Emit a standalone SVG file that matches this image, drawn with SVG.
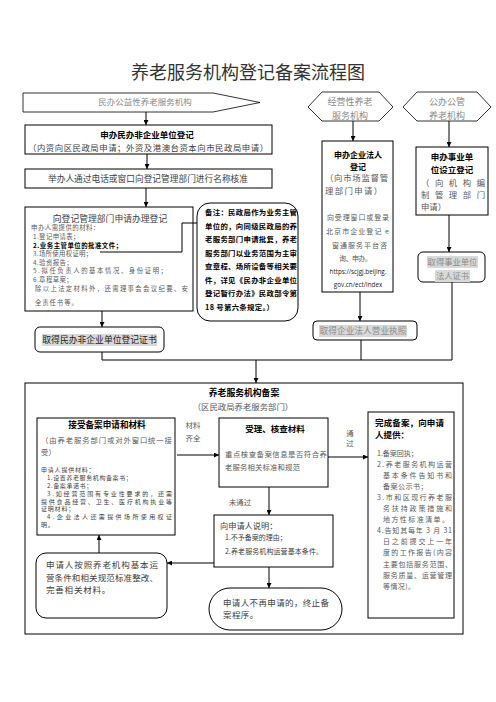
<svg xmlns="http://www.w3.org/2000/svg" width="496" height="702" viewBox="0 0 496 702">
<defs>
<marker id="ah" viewBox="0 0 10 10" refX="10" refY="5" markerWidth="5" markerHeight="5" orient="auto" markerUnits="userSpaceOnUse">
<path d="M0,0 L10,5 L0,10 z" fill="#000"/>
</marker>
<style>
text{font-family:"Noto Sans CJK SC","Noto Sans",sans-serif;}
.box{fill:#fff;stroke:#000;stroke-width:1;}
.thin{fill:#fff;stroke:#000;stroke-width:0.8;}
.ln{fill:none;stroke:#000;stroke-width:1;}
.arr{fill:none;stroke:#000;stroke-width:1;marker-end:url(#ah);}
.b{font-weight:700;fill:#000;}
.g{fill:#8a8a8a;}
.d{fill:#404040;}
.m{fill:#5a5a5a;}
.hl{fill:#d9d9d9;}
.c{text-anchor:middle;}
</style>
</defs>
<rect width="496" height="702" fill="#fff"/>
<text x="248" y="79" class="c" font-size="18" fill="#333">养老服务机构登记备案流程图</text>

<g id="n-minban">
<polygon class="thin" points="23,93 213,93 260,102.5 213,112 23,112"/>
<text x="145" y="105.3" class="c g" font-size="8.5">民办公益性养老服务机构</text>
</g>
<g id="n-jingying">
<polygon class="thin" points="308,107 322,92 379,92 393,107 379,121 322,121"/>
<text x="350" y="104.5" class="c g" font-size="9">经营性养老</text>
<text x="350" y="118.5" class="c g" font-size="9">服务机构</text>
</g>
<g id="n-gongban">
<polygon class="thin" points="403,107 417,92 477,92 491,107 477,121 417,121"/>
<text x="447" y="104.5" class="c g" font-size="9">公办公管</text>
<text x="447" y="118.5" class="c g" font-size="9">养老机构</text>
</g>

<g id="n-shenban-mf">
<rect class="box" x="25" y="125" width="247" height="29"/>
<text x="147" y="137.5" class="c b" font-size="8.5">申办民办非企业单位登记</text>
<text x="148" y="150.6" class="c d" font-size="8.4" textLength="240" lengthAdjust="spacing">（内资向区民政局申请；外资及港澳台资本向市民政局申请）</text>
</g>
<g id="n-mingcheng">
<rect class="box" x="25" y="169" width="247" height="19"/>
<text x="48" y="181.5" class="d" font-size="8.7" textLength="200" lengthAdjust="spacing">举办人通过电话或窗口向登记管理部门进行名称核准</text>
</g>
<g id="n-shenqing">
<rect class="box" x="25" y="207" width="168" height="104"/>
<text x="110" y="221.5" class="c d" font-size="8.8">向登记管理部门申请办理登记</text>
<text x="31" y="230.3" class="m" font-size="6.4" letter-spacing="0.5">申办人需提供的材料：</text>
<text x="33" y="238.9" class="m" font-size="6.4" letter-spacing="0.4">1.登记申请表；</text>
<text x="33" y="247.5" class="b" font-size="6.4" letter-spacing="0.5">2.业务主管单位的批准文件；</text>
<text x="33" y="256.1" class="m" font-size="6.4" letter-spacing="0.3">3.场所使用权证明；</text>
<text x="33" y="264.7" class="m" font-size="6.4" letter-spacing="0.4">4.验资报告；</text>
<text x="33" y="273.3" class="m" font-size="6.4" textLength="134" lengthAdjust="spacing">5.拟任负责人的基本情况、身份证明；</text>
<text x="33" y="281.9" class="m" font-size="6.4" letter-spacing="0.4">6.章程草案；</text>
<text x="35" y="290.5" class="m" font-size="6.4" textLength="153" lengthAdjust="spacing">除以上法定材料外，还需理事会会议纪要、安</text>
<text x="35" y="304.5" class="m" font-size="6.4" letter-spacing="0.9">全责任书等。</text>
</g>
<g id="n-beizhu">
<rect class="box" x="197" y="203" width="101" height="118" rx="13"/>
<text x="205" y="215" class="b" font-size="7.4" textLength="92" lengthAdjust="spacing">备注：民政局作为业务主管</text>
<text x="205" y="228.6" class="b" font-size="7.4" textLength="92" lengthAdjust="spacing">单位的，向同级民政局的养</text>
<text x="205" y="242.1" class="b" font-size="7.4" textLength="92" lengthAdjust="spacing">老服务部门申请批复，养老</text>
<text x="205" y="255.7" class="b" font-size="7.4" textLength="92" lengthAdjust="spacing">服务部门以业务范围为主审</text>
<text x="205" y="269.3" class="b" font-size="7.4" textLength="92" lengthAdjust="spacing">查章程、场所设备等相关要</text>
<text x="205" y="282.9" class="b" font-size="7.4" textLength="92" lengthAdjust="spacing">件，详见《民办非企业单位</text>
<text x="205" y="296.4" class="b" font-size="7.4" textLength="92" lengthAdjust="spacing">登记暂行办法》民政部令第</text>
<text x="205" y="310" class="b" font-size="7.4" letter-spacing="0.3">18 号第六条规定。）</text>
</g>
<g id="n-zhengshu-mf">
<rect class="box" x="35" y="327" width="129" height="25" rx="5"/>
<rect class="hl" x="42" y="334" width="115" height="12"/>
<text x="99.5" y="343.4" class="c" font-size="8.8" fill="#222">取得民办非企业单位登记证书</text>
</g>

<g id="n-qiye">
<rect class="box" x="322" y="141" width="71" height="151"/>
<text x="358" y="158" class="c b" font-size="8">申办企业法人</text>
<text x="358" y="170" class="c b" font-size="8">登记</text>
<text x="325" y="181.2" class="m" font-size="8.4" textLength="63" lengthAdjust="spacing">（向市场监督管</text>
<text x="325" y="194.2" class="m" font-size="8.4" textLength="57" lengthAdjust="spacing">理部门申请）</text>
<text x="327" y="219.7" class="m" font-size="7" textLength="62" lengthAdjust="spacing">向受理窗口或登录</text>
<text x="326" y="233.7" class="m" font-size="7" textLength="63" lengthAdjust="spacing">北京市企业登记 e</text>
<text x="332" y="247.7" class="m" font-size="7" textLength="55" lengthAdjust="spacing">窗通服务平台咨</text>
<text x="339" y="260.7" class="m" font-size="7" textLength="33" lengthAdjust="spacing">询、申办。</text>
<text x="358" y="274.3" class="c" font-size="6.3" fill="#222" style="font-family:'Open Sans','Liberation Sans',sans-serif">https://scjgj.beijing.</text>
<text x="358" y="287.3" class="c" font-size="6.3" fill="#222" style="font-family:'Open Sans','Liberation Sans',sans-serif">gov.cn/ect/index</text>
</g>
<g id="n-zhizhao">
<rect class="box" x="313" y="321" width="104" height="19" rx="4"/>
<rect class="hl" x="319" y="325" width="88" height="12"/>
<text x="363" y="334.4" class="c g" font-size="8.7">取得企业法人营业执照</text>
</g>

<g id="n-shiye">
<rect class="box" x="416" y="147" width="72" height="68"/>
<text x="452" y="160.2" class="c b" font-size="8.5">申办事业单</text>
<text x="452" y="173.2" class="c b" font-size="8.5">位设立登记</text>
<text x="421" y="186.2" class="m" font-size="8.4" textLength="64" lengthAdjust="spacing">（向机构编</text>
<text x="421" y="198.2" class="m" font-size="8.4" textLength="64" lengthAdjust="spacing">制管理部门</text>
<text x="421" y="210.2" class="m" font-size="8.4">申请）</text>
</g>
<g id="n-shiye-zs">
<rect class="box" x="418" y="252" width="67" height="30" rx="5"/>
<rect class="hl" x="427" y="256" width="51" height="12"/>
<rect class="hl" x="435" y="270" width="35" height="12"/>
<text x="452.5" y="265.2" class="c g" font-size="8.3">取得事业单位</text>
<text x="452.5" y="279.2" class="c g" font-size="8.3">法人证书</text>
</g>

<g id="n-beian">
<rect class="box" x="25" y="383" width="438" height="251"/>
<text x="244" y="396.4" class="c b" font-size="8.8">养老服务机构备案</text>
<text x="243" y="410.2" class="c m" font-size="8.4">（区民政局养老服务部门）</text>
</g>
<g id="n-jieshou">
<rect class="box" x="37" y="418" width="138" height="117"/>
<text x="107" y="428.3" class="c b" font-size="8.6">接受备案申请和材料</text>
<text x="41" y="442.7" class="m" font-size="7.4" textLength="131" lengthAdjust="spacing">（由养老服务部门或对外窗口统一接</text>
<text x="41" y="454.7" class="m" font-size="7.4">受）</text>
<text x="41" y="472.3" class="d" font-size="6" letter-spacing="0.8">申请人提供材料：</text>
<text x="47" y="480.1" class="d" font-size="6" letter-spacing="0.6">1.设置养老服务机构备案书；</text>
<text x="47" y="487.9" class="d" font-size="6" letter-spacing="0.6">2.备案承诺书；</text>
<text x="47" y="495.7" class="d" font-size="6" textLength="125" lengthAdjust="spacing">3.如经营范围有专业性要求的，还需</text>
<text x="41" y="503.5" class="d" font-size="6" textLength="131" lengthAdjust="spacing">提供食品经营、卫生、医疗机构执业等</text>
<text x="41" y="511.3" class="d" font-size="6" letter-spacing="0.8">证明材料；</text>
<text x="47" y="519.1" class="d" font-size="6" textLength="125" lengthAdjust="spacing">4.企业法人还需提供场所使用权证</text>
<text x="41" y="526.9" class="d" font-size="6" letter-spacing="0.8">明。</text>
</g>
<g id="n-shouli">
<rect class="box" x="219" y="418" width="109" height="69"/>
<text x="275" y="432.2" class="c b" font-size="8.5">受理、核查材料</text>
<text x="225" y="456.8" class="m" font-size="7.4" textLength="102" lengthAdjust="spacing">重点核查备案信息是否符合养</text>
<text x="225" y="469.8" class="m" font-size="7.4" textLength="75" lengthAdjust="spacing">老服务相关标准和规范</text>
</g>
<g id="n-wancheng">
<rect class="box" x="368" y="412" width="86" height="206"/>
<text x="375" y="426.2" class="b" font-size="8.5" textLength="69" lengthAdjust="spacing">完成备案，向申请</text>
<text x="375" y="438.2" class="b" font-size="8.5">人提供：</text>
<text x="377" y="455.7" class="m" font-size="7">1.备案回执；</text>
<text x="377" y="466.8" class="m" font-size="7" textLength="75" lengthAdjust="spacing">2.养老服务机构运营</text>
<text x="383" y="477.9" class="m" font-size="7" textLength="69" lengthAdjust="spacing">基本条件告知书和</text>
<text x="383" y="488.9" class="m" font-size="7" letter-spacing="0.5">备案公示书；</text>
<text x="377" y="500" class="m" font-size="7" textLength="75" lengthAdjust="spacing">3.市和区现行养老服</text>
<text x="383" y="511.1" class="m" font-size="7" textLength="69" lengthAdjust="spacing">务扶持政策措施和</text>
<text x="383" y="522.2" class="m" font-size="7" textLength="66" lengthAdjust="spacing">地方性标准清单。</text>
<text x="377" y="533.2" class="m" font-size="7" textLength="75" lengthAdjust="spacing">4.告知其每年 3 月 31</text>
<text x="383" y="544.3" class="m" font-size="7" textLength="69" lengthAdjust="spacing">日之前提交上一年</text>
<text x="383" y="555.4" class="m" font-size="7" textLength="69" lengthAdjust="spacing">度的工作报告(内容</text>
<text x="383" y="566.5" class="m" font-size="7" textLength="69" lengthAdjust="spacing">主要包括服务范围、</text>
<text x="383" y="577.5" class="m" font-size="7" textLength="69" lengthAdjust="spacing">服务质量、运营管理</text>
<text x="383" y="588.6" class="m" font-size="7" letter-spacing="0.4">等情况)。</text>
</g>
<g id="n-shuoming">
<rect class="box" x="214" y="515" width="119" height="52"/>
<text x="220" y="529" class="d" font-size="8.2">向申请人说明：</text>
<text x="225" y="539.7" class="d" font-size="7">1.不予备案的理由；</text>
<text x="225" y="553.7" class="d" font-size="7" textLength="98" lengthAdjust="spacing">2.养老服务机构运营基本条件。</text>
</g>
<g id="n-zhenggai">
<rect class="box" x="36" y="553" width="131" height="65" rx="10"/>
<text x="46" y="568.2" class="d" font-size="8.5" textLength="112" lengthAdjust="spacing">申请人按照养老机构基本运</text>
<text x="46" y="581.2" class="d" font-size="8.5" textLength="112" lengthAdjust="spacing">营条件和相关规范标准整改、</text>
<text x="46" y="593.2" class="d" font-size="8.5" letter-spacing="0.8">完善相关材料。</text>
</g>
<g id="n-zhongzhi">
<rect class="box" x="209" y="588" width="133" height="42" rx="21"/>
<text x="223" y="606.2" class="d" font-size="8.5" textLength="106" lengthAdjust="spacing">申请人不再申请的，终止备</text>
<text x="223" y="618.2" class="d" font-size="8.5" letter-spacing="0.4">案程序。</text>
</g>

<g id="labels">
<text x="193" y="427.8" class="c m" font-size="7.4">材料</text>
<text x="193" y="440.8" class="c m" font-size="7.4">齐全</text>
<text x="350" y="435.8" class="c m" font-size="7.4">通</text>
<text x="350" y="445.8" class="c m" font-size="7.4">过</text>
<text x="240" y="504.8" class="c m" font-size="7.4">未通过</text>
</g>

<g id="connectors">
<line class="arr" x1="146" y1="112" x2="146" y2="125"/>
<line class="arr" x1="147" y1="154" x2="147" y2="169"/>
<line class="arr" x1="146" y1="188" x2="146" y2="207"/>
<line class="arr" x1="102" y1="311" x2="102" y2="327"/>
<line class="arr" x1="353" y1="121" x2="353" y2="141"/>
<line class="arr" x1="449" y1="121" x2="449" y2="147"/>
<line class="arr" x1="449" y1="215" x2="449" y2="252"/>
<line class="arr" x1="360" y1="292" x2="360" y2="321"/>
<polyline class="ln" points="100,252 182,252 182,223 197,223"/>
<polyline class="ln" points="102,352 102,360 452,360 452,282"/>
<line class="ln" x1="361" y1="340" x2="361" y2="360"/>
<line class="arr" x1="256" y1="360" x2="256" y2="383"/>
<line class="arr" x1="177" y1="455" x2="219" y2="455"/>
<line class="arr" x1="328" y1="457" x2="368" y2="457"/>
<line class="arr" x1="269" y1="487" x2="269" y2="515"/>
<line class="arr" x1="214" y1="563" x2="167" y2="563"/>
<line class="arr" x1="99" y1="553" x2="99" y2="535"/>
<line class="arr" x1="269" y1="567" x2="269" y2="588"/>
</g>
</svg>
